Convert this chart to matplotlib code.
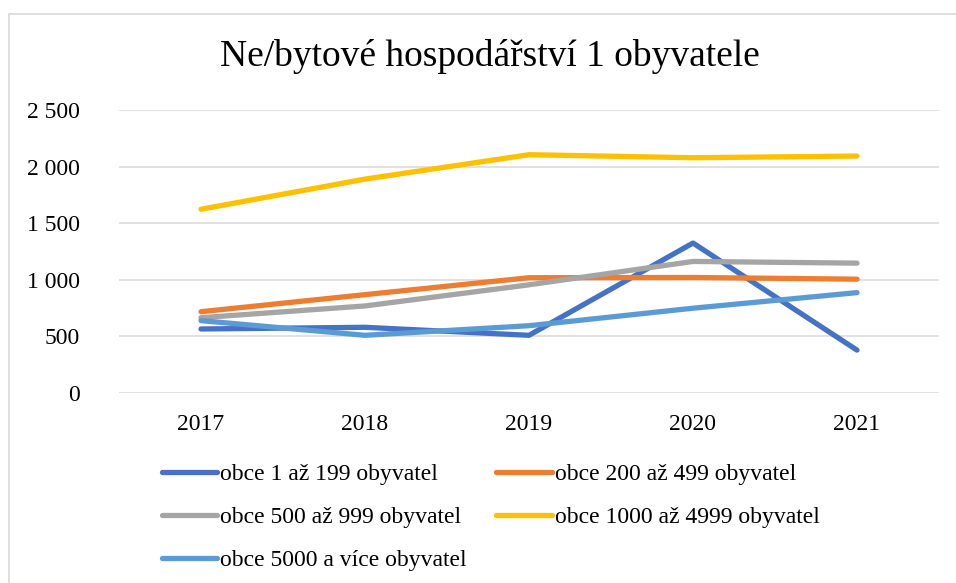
import matplotlib.pyplot as plt
import matplotlib.patches as patches
import numpy as np

plt.rcParams['font.family'] = ['Liberation Serif', 'DejaVu Serif']

# data
years = ['2017', '2018', '2019', '2020', '2021']
obce_1_199 = [564, 579, 508, 1325, 377]
obce_200_499 = [717, 868, 1018, 1020, 1005]
obce_500_999 = [664, 768, 955, 1162, 1147]
obce_1000_4999 = [1624, 1891, 2107, 2080, 2095]
obce_5000_vice = [638, 508, 593, 748, 886]

labels = ['obce 1 až 199 obyvatel', 'obce 200 až 499 obyvatel',
          'obce 500 až 999 obyvatel', 'obce 1000 až 4999 obyvatel',
          'obce 5000 a více obyvatel']
colors = ['#4472C4', '#ED7D31', '#A5A5A5', '#FFC000', '#5B9BD5']
series = [obce_1_199, obce_200_499, obce_500_999, obce_1000_4999, obce_5000_vice]

W, H = 956, 583
fig = plt.figure(figsize=(W / 100, H / 100), dpi=100)
ax = fig.add_axes([119 / W, 1 - 392.7 / H, 820 / W, (392.7 - 110.3) / H])

# ramecek grafu (vpravo a dole oriznuty)
fig.patches.append(patches.Rectangle((9 / W, -0.2), 1.2, 1.2 - 14 / H,
                                     transform=fig.transFigure, fill=False,
                                     edgecolor='#D9D9D9', linewidth=1.2))

x = np.arange(len(years))
handles = []
for s, lab, c in zip(series, labels, colors):
    h, = ax.plot(x, s, color=c, linewidth=3.8, solid_capstyle='round',
                 solid_joinstyle='round', label=lab)
    handles.append(h)

ax.set_xlim(-0.5, len(years) - 0.5)
ax.set_ylim(0, 2500)
ax.set_yticks(np.arange(0, 2501, 500))
ax.set_yticklabels(['0', '500', '1 000', '1 500', '2 000', '2 500'])
ax.set_xticks(x)
ax.set_xticklabels(years)
ax.grid(axis='y', color='#D9D9D9', linewidth=1.1)
ax.set_axisbelow(True)
for sp in ax.spines.values():
    sp.set_visible(False)
ax.tick_params(axis='x', length=0, pad=15, labelsize=17)
ax.tick_params(axis='y', length=0, pad=28, labelsize=17)

fig.text(490 / W, 1 - 57 / H, 'Ne/bytové hospodářství 1 obyvatele',
         ha='center', va='center', fontsize=27)

order = [0, 2, 4, 1, 3]
fig.legend([handles[i] for i in order], [labels[i] for i in order],
           ncol=2, loc='upper left', bbox_to_anchor=(150 / W, 1 - 452 / H),
           frameon=False, fontsize=17, handlelength=2.35, handletextpad=0.12,
           columnspacing=1.25, labelspacing=0.9, borderpad=0)

fig.savefig('out.png', dpi=100)
